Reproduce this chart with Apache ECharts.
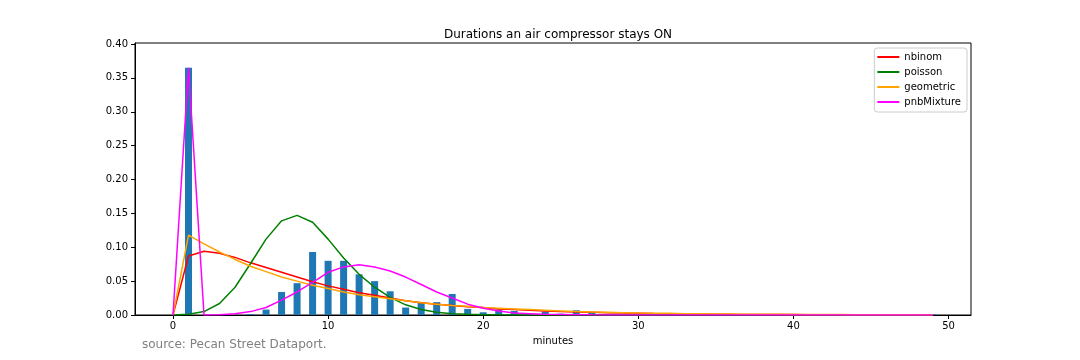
<!DOCTYPE html>
<html>
<head>
<meta charset="utf-8">
<script src="https://cdn.jsdelivr.net/npm/echarts@6/dist/echarts.min.js"></script>
<style>
  html, body { margin: 0; padding: 0; background: #fff; }
  #chart { width: 1080px; height: 360px; }
</style>
</head>
<body>
<div id="chart"></div>
<script>
// minutes 0..49
const minutes = Array.from({length: 50}, (_, i) => i)

// observed histogram (share of ON periods)
const observed = [0, 0.365, 0, 0, 0, 0.001, 0.008, 0.034, 0.047, 0.093,
    0.080, 0.080, 0.060, 0.050, 0.035, 0.011, 0.019, 0.019, 0.031, 0.009,
    0.004, 0.008, 0.006, 0.001, 0.005, 0.002, 0.007, 0.003, 0.001, 0,
    0, 0, 0, 0, 0, 0, 0, 0, 0, 0,
    0, 0, 0, 0, 0, 0, 0, 0, 0, 0.001]

const nbinom = [0, 0.087, 0.094, 0.091, 0.085, 0.077, 0.070, 0.063, 0.056, 0.049,
    0.043, 0.038, 0.033, 0.029, 0.025, 0.021, 0.018, 0.016, 0.014, 0.012,
    0.011, 0.009, 0.008, 0.007, 0.006, 0.005, 0.0045, 0.004, 0.0035, 0.003,
    0.0026, 0.0022, 0.0019, 0.0016, 0.0014, 0.0012, 0.001, 0.0009, 0.0008, 0.0007,
    0.0006, 0.0005, 0.0004, 0.0004, 0.0003, 0.0003, 0.0002, 0.0002, 0.0002, 0.0001]

const poisson = [0, 0.001, 0.005, 0.017, 0.041, 0.076, 0.112, 0.139, 0.147, 0.137,
    0.112, 0.084, 0.060, 0.041, 0.026, 0.015, 0.008, 0.004, 0.002, 0.001,
    0.0005, 0.0002, 0.0001, 0, 0, 0, 0, 0, 0, 0,
    0, 0, 0, 0, 0, 0, 0, 0, 0, 0,
    0, 0, 0, 0, 0, 0, 0, 0, 0, 0]

const geometric = [0, 0.118, 0.105, 0.093, 0.082, 0.072, 0.064, 0.056, 0.050, 0.044,
    0.039, 0.034, 0.030, 0.027, 0.024, 0.021, 0.018, 0.016, 0.014, 0.013,
    0.011, 0.010, 0.009, 0.008, 0.007, 0.006, 0.005, 0.0045, 0.004, 0.0035,
    0.003, 0.0027, 0.0024, 0.002, 0.0018, 0.0016, 0.0014, 0.0012, 0.0011, 0.001,
    0.0009, 0.0008, 0.0007, 0.0006, 0.0005, 0.0005, 0.0004, 0.0004, 0.0003, 0.0003]

const pnbMixture = [0, 0.365, 0, 0.0005, 0.002, 0.005, 0.011, 0.022, 0.034, 0.048,
    0.063, 0.071, 0.074, 0.071, 0.065, 0.056, 0.045, 0.034, 0.025, 0.016,
    0.010, 0.006, 0.003, 0.002, 0.001, 0.0007, 0.0004, 0.0002, 0.0001, 0,
    0, 0, 0, 0, 0, 0, 0, 0, 0, 0,
    0, 0, 0, 0, 0, 0, 0, 0, 0, 0]

const xTicks = [0, 10, 20, 30, 40, 50]
const yTicks = [0, 0.05, 0.10, 0.15, 0.20, 0.25, 0.30, 0.35, 0.40]

const font = 'DejaVu Sans'

function pairs(values){
    return minutes.map((m, i) => [m, values[i]])
}

function fitLine(name, values, color){
    return {
        name: name,
        type: 'line',
        data: pairs(values),
        symbol: 'none',
        smooth: false,
        z: 3,
        lineStyle: { color: color, width: 1.5 },
        itemStyle: { color: color }
    }
}

var myChart = echarts.init(document.getElementById('chart'), null, { renderer: 'canvas' })
var option = {
    animation: false,
    backgroundColor: '#fff',
    title: {
        text: 'Durations an air compressor stays ON',
        left: 553,
        textAlign: 'center',
        top: 24,
        textStyle: { fontFamily: font, fontSize: 12, fontWeight: 'normal', color: '#000' }
    },
    grid: {
        left: 135, right: 109, top: 43, bottom: 45,
        show: true, borderColor: '#000', borderWidth: 1, backgroundColor: 'transparent'
    },
    legend: {
        orient: 'vertical',
        right: 113,
        top: 48,
        data: ['nbinom', 'poisson', 'geometric', 'pnbMixture'],
        icon: 'rect',
        itemWidth: 22,
        itemHeight: 2,
        itemGap: 3,
        padding: [3, 6, 4, 3],
        backgroundColor: '#fff',
        borderColor: '#ccc',
        borderWidth: 1,
        borderRadius: 3,
        textStyle: { fontFamily: font, fontSize: 10, color: '#000', lineHeight: 12 }
    },
    xAxis: {
        type: 'value',
        min: -2.45,
        max: 51.45,
        name: 'minutes',
        nameLocation: 'middle',
        nameGap: 21,
        nameTextStyle: { fontFamily: font, fontSize: 10, color: '#000' },
        splitLine: { show: false },
        axisLine: { show: true, onZero: false, lineStyle: { color: '#000', width: 1 } },
        axisTick: { show: true, length: 4, customValues: xTicks, lineStyle: { color: '#000' } },
        axisLabel: { customValues: xTicks, fontFamily: font, fontSize: 10, color: '#000', margin: 6 }
    },
    yAxis: {
        type: 'value',
        min: 0,
        max: 0.4015,
        splitLine: { show: false },
        axisLine: { show: true, onZero: false, lineStyle: { color: '#000', width: 1 } },
        axisTick: { show: true, length: 4, customValues: yTicks, lineStyle: { color: '#000' } },
        axisLabel: {
            customValues: yTicks,
            fontFamily: font, fontSize: 10, color: '#000', margin: 7,
            formatter: v => v.toFixed(2)
        }
    },
    series: [
        {
            name: 'observed',
            type: 'bar',
            data: pairs(observed),
            barWidth: 7,
            z: 2,
            itemStyle: { color: '#1f77b4' }
        },
        fitLine('nbinom', nbinom, '#ff0000'),
        fitLine('poisson', poisson, '#008000'),
        fitLine('geometric', geometric, '#ffa500'),
        fitLine('pnbMixture', pnbMixture, '#ff00ff')
    ],
    graphic: [{
        type: 'text',
        left: 142,
        top: 339,
        style: { text: 'source: Pecan Street Dataport.', fontFamily: font, fontSize: 12, fill: '#808080' }
    }]
}
myChart.setOption(option)
</script>
</body>
</html>
